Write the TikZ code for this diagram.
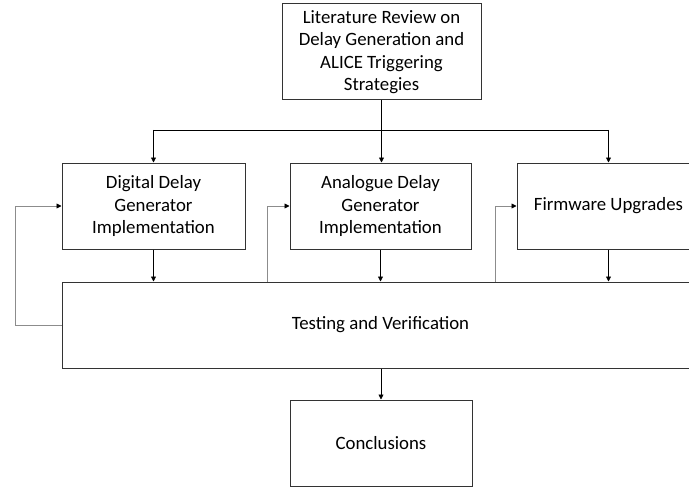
\documentclass[tikz,border=0pt]{standalone}
\usepackage{fontspec}
\setmainfont{Carlito}
\usetikzlibrary{arrows.meta}
\begin{document}
\begin{tikzpicture}[x=1pt,y=-1pt,
  box/.style={draw=black!80, line width=1pt, align=center, inner sep=0pt,
    font=\fontsize{18.8}{22.5}\selectfont},
  flow/.style={draw=black, line width=0.8pt, -{Triangle[length=5pt,width=5pt]}},
  back/.style={draw=black!45, line width=0.9pt, -{Triangle[length=5pt,width=5pt,fill=black,color=black]}}]
\useasboundingbox (0,0) rectangle (689,487);
\clip (0,0) rectangle (689,487);
% stages of the work plan
\node[box, minimum width=199pt, minimum height=96pt] (lit) at (381.5,52)
  {Literature Review on\\Delay Generation and\\ALICE Triggering\\Strategies};
\node[box, minimum width=183pt, minimum height=86pt] (dig) at (153.5,206)
  {Digital Delay\\Generator\\Implementation};
\node[box, minimum width=181pt, minimum height=86pt] (ana) at (380.5,206)
  {Analogue Delay\\Generator\\Implementation};
\node[box, minimum width=183pt, minimum height=86pt] (fw) at (608.5,206)
  {Firmware Upgrades};
\node[box, minimum width=637pt, minimum height=86pt] (test) at (380.5,325)
  {Testing and Verification};
\node[box, minimum width=182pt, minimum height=86pt] (conc) at (381,443)
  {Conclusions};
% distribution from the review to the three branches
\coordinate (split) at (lit.south |- 0,130);
\draw[line width=0.8pt] (lit.south) -- (split);
\draw[line width=0.8pt] (dig.north |- split) -- (fw.north |- split);
\draw[flow] (split) -- (split |- ana.north);
\draw[flow] (dig.north |- split) -- (dig.north);
\draw[flow] (fw.north |- split) -- (fw.north);
% branches into testing
\draw[flow] (dig.south) -- (dig.south |- test.north);
\draw[flow] (ana.south) -- (ana.south |- test.north);
\draw[flow] (fw.south) -- (fw.south |- test.north);
\draw[flow] (test.south -| conc.north) -- (conc.north);
% feedback loops from testing
\draw[back] (test.west) -- (15,325) |- (dig.west);
\draw[back] (267,282) |- (ana.west);
\draw[back] (495,282) |- (fw.west);
\end{tikzpicture}
\end{document}
